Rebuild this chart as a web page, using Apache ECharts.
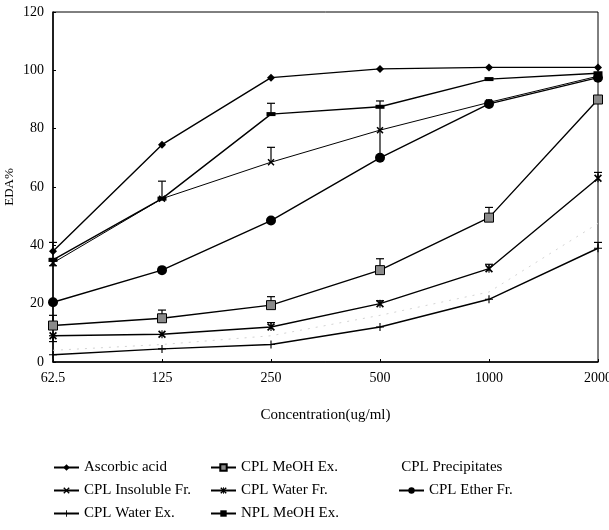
<!DOCTYPE html>
<html>
<head>
<meta charset="utf-8">
<script src="https://cdn.jsdelivr.net/npm/echarts@6/dist/echarts.min.js"></script>
<style>html,body{margin:0;padding:0;background:#fff}#c{width:609px;height:530px}</style>
</head>
<body>
<div id="c"></div>
<script>
const categories = ['62.5', '125', '250', '500', '1000', '2000'];
const ascorbic    = [38, 74.5, 97.5, 100.5, 101, 101];
const meohEx      = [12.5, 15, 19.5, 31.5, 49.5, 90];
const precip      = [4, 6, 9, 16, 24, 47.5];
const insoluble   = [34, 56, 68.5, 79.5, 89, 98];
const waterFr     = [9, 9.5, 12, 20, 32, 63];
const etherFr     = [20.5, 31.5, 48.5, 70, 88.5, 97.5];
const waterEx     = [2.5, 4.5, 6, 12, 21.5, 39];
const nplMeoh     = [35, 56, 85, 87.5, 97, 99];
const yTicks      = [0, 20, 40, 60, 80, 100, 120];
// error bars: [category index, low, high, lower cap (1/0)]
const errorBars = [
  [0, 38, 41, 0], [0, 33, 35.5, 1], [0, 12.5, 16, 0], [0, 7, 9, 1],
  [1, 56, 62, 0], [1, 15, 17.8, 0],
  [2, 68.5, 73.6, 0], [2, 85, 88.7, 0], [2, 19.5, 22.4, 0], [2, 12, 13.5, 0],
  [3, 70, 89.5, 1], [3, 31.5, 35.4, 0], [3, 20, 21, 0],
  [4, 49.5, 53, 0], [4, 32, 33.5, 0],
  [5, 63, 65, 0], [5, 39, 41, 0]
];

const font = 'Liberation Serif';
const xSym = 'path://M0,1.5L1.5,0L5,3.5L8.5,0L10,1.5L6.5,5L10,8.5L8.5,10L5,6.5L1.5,10L0,8.5L3.5,5Z';
const astSym = 'path://M0,1.5L1.5,0L4.3,2.8V0H5.7V2.8L8.5,0L10,1.5L6.5,5L10,8.5L8.5,10L5.7,7.2V10H4.3V7.2L1.5,10L0,8.5L3.5,5Z';
const plusSym = 'path://M4.3,0H5.7V4.3H10V5.7H5.7V10H4.3V5.7H0V4.3H4.3Z';

function lineSeries(name, data, symbol, size, extra) {
  return Object.assign({
    name: name, type: 'line', data: data, symbol: symbol, symbolSize: size,
    showSymbol: true, animation: false,
    lineStyle: {color: '#000', width: 1.4},
    itemStyle: {color: '#000'}
  }, extra || {});
}

const legendText = {fontFamily: font, fontSize: 15, color: '#000'};
const chart = echarts.init(document.getElementById('c'));
chart.setOption({
  backgroundColor: '#fff',
  animation: false,
  textStyle: {fontFamily: font},
  grid: {left: 53, right: 11, top: 12, bottom: 168, show: true, borderColor: '#000', borderWidth: 1,
         containLabel: false, outerBoundsMode: 'none'},
  xAxis: {
    type: 'category', data: categories, boundaryGap: false,
    name: 'Concentration(ug/ml)', nameLocation: 'middle', nameGap: 46,
    nameTextStyle: {fontFamily: font, fontSize: 15, color: '#000'},
    axisLine: {lineStyle: {color: '#000', width: 1.5}},
    axisTick: {show: true, inside: true, length: 3, lineStyle: {color: '#000'}},
    axisLabel: {color: '#000', fontFamily: font, fontSize: 14, margin: 9, hideOverlap: false},
    splitLine: {show: false}
  },
  yAxis: {
    type: 'value', min: 0, max: 120, interval: 20,
    name: 'EDA%', nameLocation: 'middle', nameGap: 37, nameMoveOverlap: false,
    nameTextStyle: {fontFamily: font, fontSize: 13, color: '#000'},
    axisLine: {show: true, lineStyle: {color: '#000', width: 1.5}},
    axisTick: {show: true, inside: true, length: 3, lineStyle: {color: '#000'}},
    axisLabel: {color: '#000', fontFamily: font, fontSize: 14, margin: 9,
      formatter: v => yTicks.includes(v) ? String(v) : ''},
    splitLine: {show: false}
  },
  legend: [
    {orient: 'vertical', left: 48, top: 455, itemWidth: 25, itemHeight: 8, itemGap: 8,
     data: ['Ascorbic acid', 'CPL Insoluble Fr.', 'CPL Water Ex.'], textStyle: legendText},
    {orient: 'vertical', left: 205, top: 455, itemWidth: 25, itemHeight: 8, itemGap: 8,
     data: ['CPL MeOH Ex.', 'CPL Water Fr.', 'NPL MeOH Ex.'], textStyle: legendText},
    {orient: 'vertical', left: 388, top: 455, itemWidth: 0, itemHeight: 8, itemGap: 8,
     data: [{name: 'CPL Precipitates', itemStyle: {opacity: 0}, lineStyle: {opacity: 0}}],
     textStyle: legendText},
    {orient: 'vertical', left: 393, top: 478, itemWidth: 25, itemHeight: 8, itemGap: 8,
     data: ['CPL Ether Fr.'], textStyle: legendText}
  ],
  series: [
    {
      type: 'custom', name: 'errors', data: errorBars, z: 1, silent: true, animation: false,
      renderItem: function (params, api) {
        const i = api.value(0);
        const lo = api.coord([i, api.value(1)]);
        const hi = api.coord([i, api.value(2)]);
        const style = {stroke: '#000', lineWidth: 1.2};
        const children = [
          {type: 'line', shape: {x1: lo[0], y1: lo[1], x2: hi[0], y2: hi[1]}, style: style},
          {type: 'line', shape: {x1: hi[0] - 4, y1: hi[1], x2: hi[0] + 4, y2: hi[1]}, style: style}
        ];
        if (api.value(3)) {
          children.push({type: 'line', shape: {x1: lo[0] - 4, y1: lo[1], x2: lo[0] + 4, y2: lo[1]}, style: style});
        }
        return {type: 'group', children: children};
      }
    },
    lineSeries('CPL Precipitates', precip, 'none', 0, {
      lineStyle: {color: '#d4d4d4', width: 1, type: [2, 6]}, itemStyle: {color: '#d4d4d4'}, z: 0}),
    lineSeries('Ascorbic acid', ascorbic, 'diamond', 8),
    lineSeries('CPL MeOH Ex.', meohEx, 'rect', 9, {
      itemStyle: {color: '#8a8a8a', borderColor: '#000', borderWidth: 1}}),
    lineSeries('CPL Insoluble Fr.', insoluble, xSym, 7, {lineStyle: {color: '#000', width: 1}}),
    lineSeries('CPL Water Fr.', waterFr, astSym, 8),
    lineSeries('CPL Ether Fr.', etherFr, 'circle', 10),
    lineSeries('CPL Water Ex.', waterEx, plusSym, 8),
    lineSeries('NPL MeOH Ex.', nplMeoh, 'rect', [9, 4])
  ]
});
</script>
</body>
</html>
